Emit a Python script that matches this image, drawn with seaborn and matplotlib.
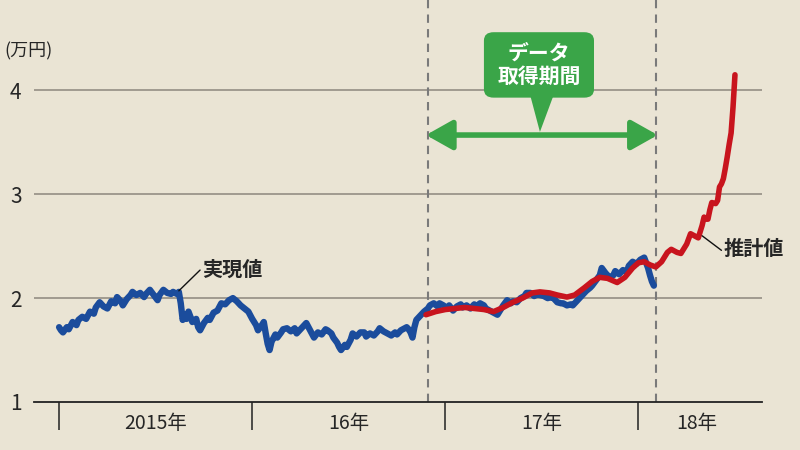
import numpy as np
import pandas as pd
import matplotlib
import matplotlib.pyplot as plt
import seaborn as sns
from matplotlib.patches import FancyBboxPatch, Polygon

matplotlib.use("Agg")

# 実現値 (decimal year, 万円)
real_year = [
    2015.00, 2015.01, 2015.02, 2015.04, 2015.05, 2015.07, 2015.09, 2015.10, 2015.12, 2015.14,
    2015.16, 2015.18, 2015.19, 2015.21, 2015.23, 2015.25, 2015.27, 2015.29, 2015.30, 2015.32,
    2015.33, 2015.35, 2015.37, 2015.38, 2015.40, 2015.42, 2015.44, 2015.45, 2015.47, 2015.49,
    2015.51, 2015.52, 2015.54, 2015.56, 2015.58, 2015.59, 2015.61, 2015.62, 2015.63, 2015.64,
    2015.65, 2015.66, 2015.67, 2015.68, 2015.69, 2015.71, 2015.72, 2015.73, 2015.75, 2015.77,
    2015.78, 2015.80, 2015.82, 2015.84, 2015.86, 2015.88, 2015.90, 2015.92, 2015.94, 2015.96,
    2015.98, 2016.00, 2016.02, 2016.03, 2016.05, 2016.06, 2016.07, 2016.08, 2016.09, 2016.10,
    2016.12, 2016.13, 2016.15, 2016.16, 2016.18, 2016.20, 2016.22, 2016.23, 2016.25, 2016.27,
    2016.28, 2016.30, 2016.32, 2016.34, 2016.36, 2016.38, 2016.39, 2016.41, 2016.42, 2016.44,
    2016.45, 2016.46, 2016.48, 2016.49, 2016.51, 2016.52, 2016.54, 2016.56, 2016.58, 2016.59,
    2016.61, 2016.63, 2016.65, 2016.66, 2016.68, 2016.70, 2016.72, 2016.74, 2016.75, 2016.77,
    2016.78, 2016.80, 2016.81, 2016.82, 2016.83, 2016.84, 2016.85, 2016.87, 2016.89, 2016.91,
    2016.92, 2016.94, 2016.96, 2016.97, 2016.99, 2017.01, 2017.02, 2017.04, 2017.06, 2017.08,
    2017.09, 2017.11, 2017.13, 2017.15, 2017.16, 2017.18, 2017.20, 2017.21, 2017.23, 2017.25,
    2017.27, 2017.28, 2017.30, 2017.32, 2017.34, 2017.35, 2017.37, 2017.39, 2017.41, 2017.42,
    2017.44, 2017.46, 2017.48, 2017.49, 2017.51, 2017.53, 2017.55, 2017.56, 2017.58, 2017.60,
    2017.61, 2017.63, 2017.65, 2017.66, 2017.68, 2017.70, 2017.71, 2017.73, 2017.75, 2017.76,
    2017.78, 2017.80, 2017.81, 2017.83, 2017.85, 2017.87, 2017.88, 2017.90, 2017.92, 2017.94,
    2017.95, 2017.97, 2017.99, 2018.01, 2018.03, 2018.04, 2018.05, 2018.06, 2018.07, 2018.08,
]
real_value = [
    1.72, 1.69, 1.67, 1.72, 1.70, 1.77, 1.74, 1.79, 1.82, 1.80,
    1.87, 1.85, 1.91, 1.96, 1.92, 1.90, 1.97, 1.95, 2.01, 1.97,
    1.93, 1.99, 2.03, 2.06, 2.03, 2.05, 2.01, 2.04, 2.08, 2.03,
    1.98, 2.03, 2.08, 2.05, 2.04, 2.06, 2.04, 2.06, 1.95, 1.79,
    1.84, 1.80, 1.87, 1.82, 1.77, 1.80, 1.72, 1.69, 1.76, 1.81,
    1.79, 1.86, 1.88, 1.95, 1.94, 1.98, 2.00, 1.97, 1.93, 1.90,
    1.87, 1.80, 1.74, 1.69, 1.74, 1.77, 1.66, 1.56, 1.50, 1.58,
    1.65, 1.62, 1.67, 1.70, 1.71, 1.68, 1.71, 1.66, 1.70, 1.74,
    1.76, 1.69, 1.62, 1.67, 1.65, 1.70, 1.69, 1.66, 1.62, 1.57,
    1.53, 1.50, 1.55, 1.53, 1.60, 1.66, 1.63, 1.67, 1.67, 1.63,
    1.66, 1.64, 1.68, 1.71, 1.68, 1.66, 1.64, 1.67, 1.65, 1.69,
    1.70, 1.72, 1.70, 1.67, 1.62, 1.72, 1.79, 1.83, 1.87, 1.90,
    1.93, 1.95, 1.92, 1.95, 1.93, 1.90, 1.93, 1.88, 1.92, 1.94,
    1.91, 1.93, 1.90, 1.94, 1.92, 1.95, 1.93, 1.90, 1.88, 1.86,
    1.84, 1.87, 1.93, 1.98, 1.95, 1.97, 1.96, 2.00, 2.02, 2.05,
    2.05, 2.02, 2.04, 2.03, 2.02, 2.00, 2.01, 2.00, 1.96, 1.95,
    1.95, 1.93, 1.94, 1.93, 1.97, 2.01, 2.03, 2.07, 2.10, 2.12,
    2.17, 2.22, 2.29, 2.24, 2.20, 2.22, 2.26, 2.23, 2.27, 2.25,
    2.31, 2.35, 2.33, 2.37, 2.39, 2.34, 2.29, 2.22, 2.16, 2.12,
]

# 推計値
est_year = [
    2016.90, 2016.95, 2017.00, 2017.05, 2017.10, 2017.15, 2017.20, 2017.25, 2017.30, 2017.35,
    2017.40, 2017.45, 2017.49, 2017.54, 2017.58, 2017.63, 2017.67, 2017.72, 2017.76, 2017.80,
    2017.84, 2017.89, 2017.93, 2017.97, 2018.00, 2018.03, 2018.06, 2018.09, 2018.12, 2018.15,
    2018.17, 2018.20, 2018.22, 2018.25, 2018.27, 2018.29, 2018.31, 2018.33, 2018.34, 2018.35,
    2018.36, 2018.37, 2018.38, 2018.40, 2018.41, 2018.42, 2018.43, 2018.44, 2018.45, 2018.46,
    2018.47, 2018.48, 2018.49, 2018.50,
]
est_value = [
    1.84, 1.87, 1.89, 1.90, 1.91, 1.90, 1.89, 1.87, 1.91, 1.96,
    2.00, 2.05, 2.06, 2.05, 2.03, 2.01, 2.03, 2.10, 2.16, 2.20,
    2.19, 2.15, 2.20, 2.29, 2.34, 2.35, 2.32, 2.30, 2.35, 2.44,
    2.47, 2.44, 2.43, 2.52, 2.62, 2.60, 2.58, 2.70, 2.78, 2.76,
    2.76, 2.85, 2.92, 2.91, 2.94, 3.07, 3.10, 3.15, 3.25, 3.36,
    3.48, 3.59, 3.84, 4.15,
]

year_bounds = [2015, 2016, 2017, 2018]
year_label_pos = [2015.5, 2016.5, 2017.5, 2018.30]
year_labels = ["2015年", "16年", "17年", "18年"]
period = [2016.91, 2018.09]

bg = "#EAE4D4"
blue = "#1B4C9C"
red = "#C8141E"
green = "#3AA548"

sns.set_style("white")
plt.rcParams['font.family'] = ['Noto Sans CJK JP', 'DejaVu Sans']

fig = plt.figure(figsize=(8, 4.5), dpi=100, facecolor=bg)
ax = fig.add_axes([0.0425, 0.1067, 0.91, 0.8933])
ax.set_facecolor(bg)

real_df = pd.DataFrame({"year": real_year, "value": real_value})
est_df = pd.DataFrame({"year": est_year, "value": est_value})

for v in [2, 3, 4]:
    ax.axhline(v, color="#9B958A", lw=1.3, zorder=1)
for p in period:
    ax.axvline(p, color="#7A7A7A", lw=1.5, ls=(0, (4, 3)), zorder=1)

sns.lineplot(data=real_df, x="year", y="value", ax=ax, color=blue, lw=4.6,
             estimator=None, zorder=3, solid_joinstyle="round", solid_capstyle="round")
sns.lineplot(data=est_df, x="year", y="value", ax=ax, color=red, lw=4.0,
             estimator=None, zorder=4, solid_joinstyle="round", solid_capstyle="round")

ax.set_xlim(2014.87, 2018.64)
ax.set_ylim(1, 4.87)
ax.set_xlabel("")
ax.set_ylabel("")

for s in ["top", "right", "left"]:
    ax.spines[s].set_visible(False)
ax.spines["bottom"].set_color("#222222")
ax.spines["bottom"].set_linewidth(1.3)

ax.set_yticks([1, 2, 3, 4])
ax.set_yticklabels(["1", "2", "3", "4"], fontsize=15)
ax.tick_params(axis="y", length=0, pad=9)

ax.set_xticks(year_bounds, minor=True)
ax.set_xticks(year_label_pos)
ax.set_xticklabels(year_labels, fontsize=14)
ax.tick_params(axis="x", which="major", bottom=True, length=0, pad=8)
ax.tick_params(axis="x", which="minor", bottom=True, length=20, width=1.1,
               color="#222222", direction="out")

fig.text(0.005, 0.885, "(万円)", fontsize=13, ha="left", va="center")

# データ取得期間 box and arrow
ax.annotate("", xy=(period[0] - 0.01, 3.57), xytext=(period[1] + 0.01, 3.57),
            arrowprops=dict(arrowstyle="<|-|>,head_length=0.8,head_width=0.45",
                            mutation_scale=20, color=green, lw=4, shrinkA=0, shrinkB=0),
            zorder=5)
box = FancyBboxPatch((2017.20, 3.93), 0.57, 0.63,
                     boxstyle="round,pad=0,rounding_size=0.05", mutation_aspect=1.6,
                     fc=green, ec="none", zorder=6)
ax.add_patch(box)
ax.add_patch(Polygon([[2017.44, 3.95], [2017.56, 3.95], [2017.49, 3.60]],
                     closed=True, fc=green, ec="none", zorder=6))
ax.text(2017.485, 4.25, "データ\n取得期間", color="white", fontsize=15,
        fontweight="bold", ha="center", va="center", linespacing=1.15, zorder=7)

# labels
ax.plot([2015.62, 2015.73], [2.07, 2.27], color="#111111", lw=1, zorder=5)
ax.text(2015.74, 2.28, "実現値", fontsize=14.5, fontweight="bold", ha="left", va="center")
ax.plot([2018.33, 2018.43], [2.60, 2.46], color="#111111", lw=1, zorder=5)
ax.text(2018.44, 2.48, "推計値", fontsize=14.5, fontweight="bold", ha="left", va="center")

fig.savefig("out.png", dpi=100, facecolor=bg)
